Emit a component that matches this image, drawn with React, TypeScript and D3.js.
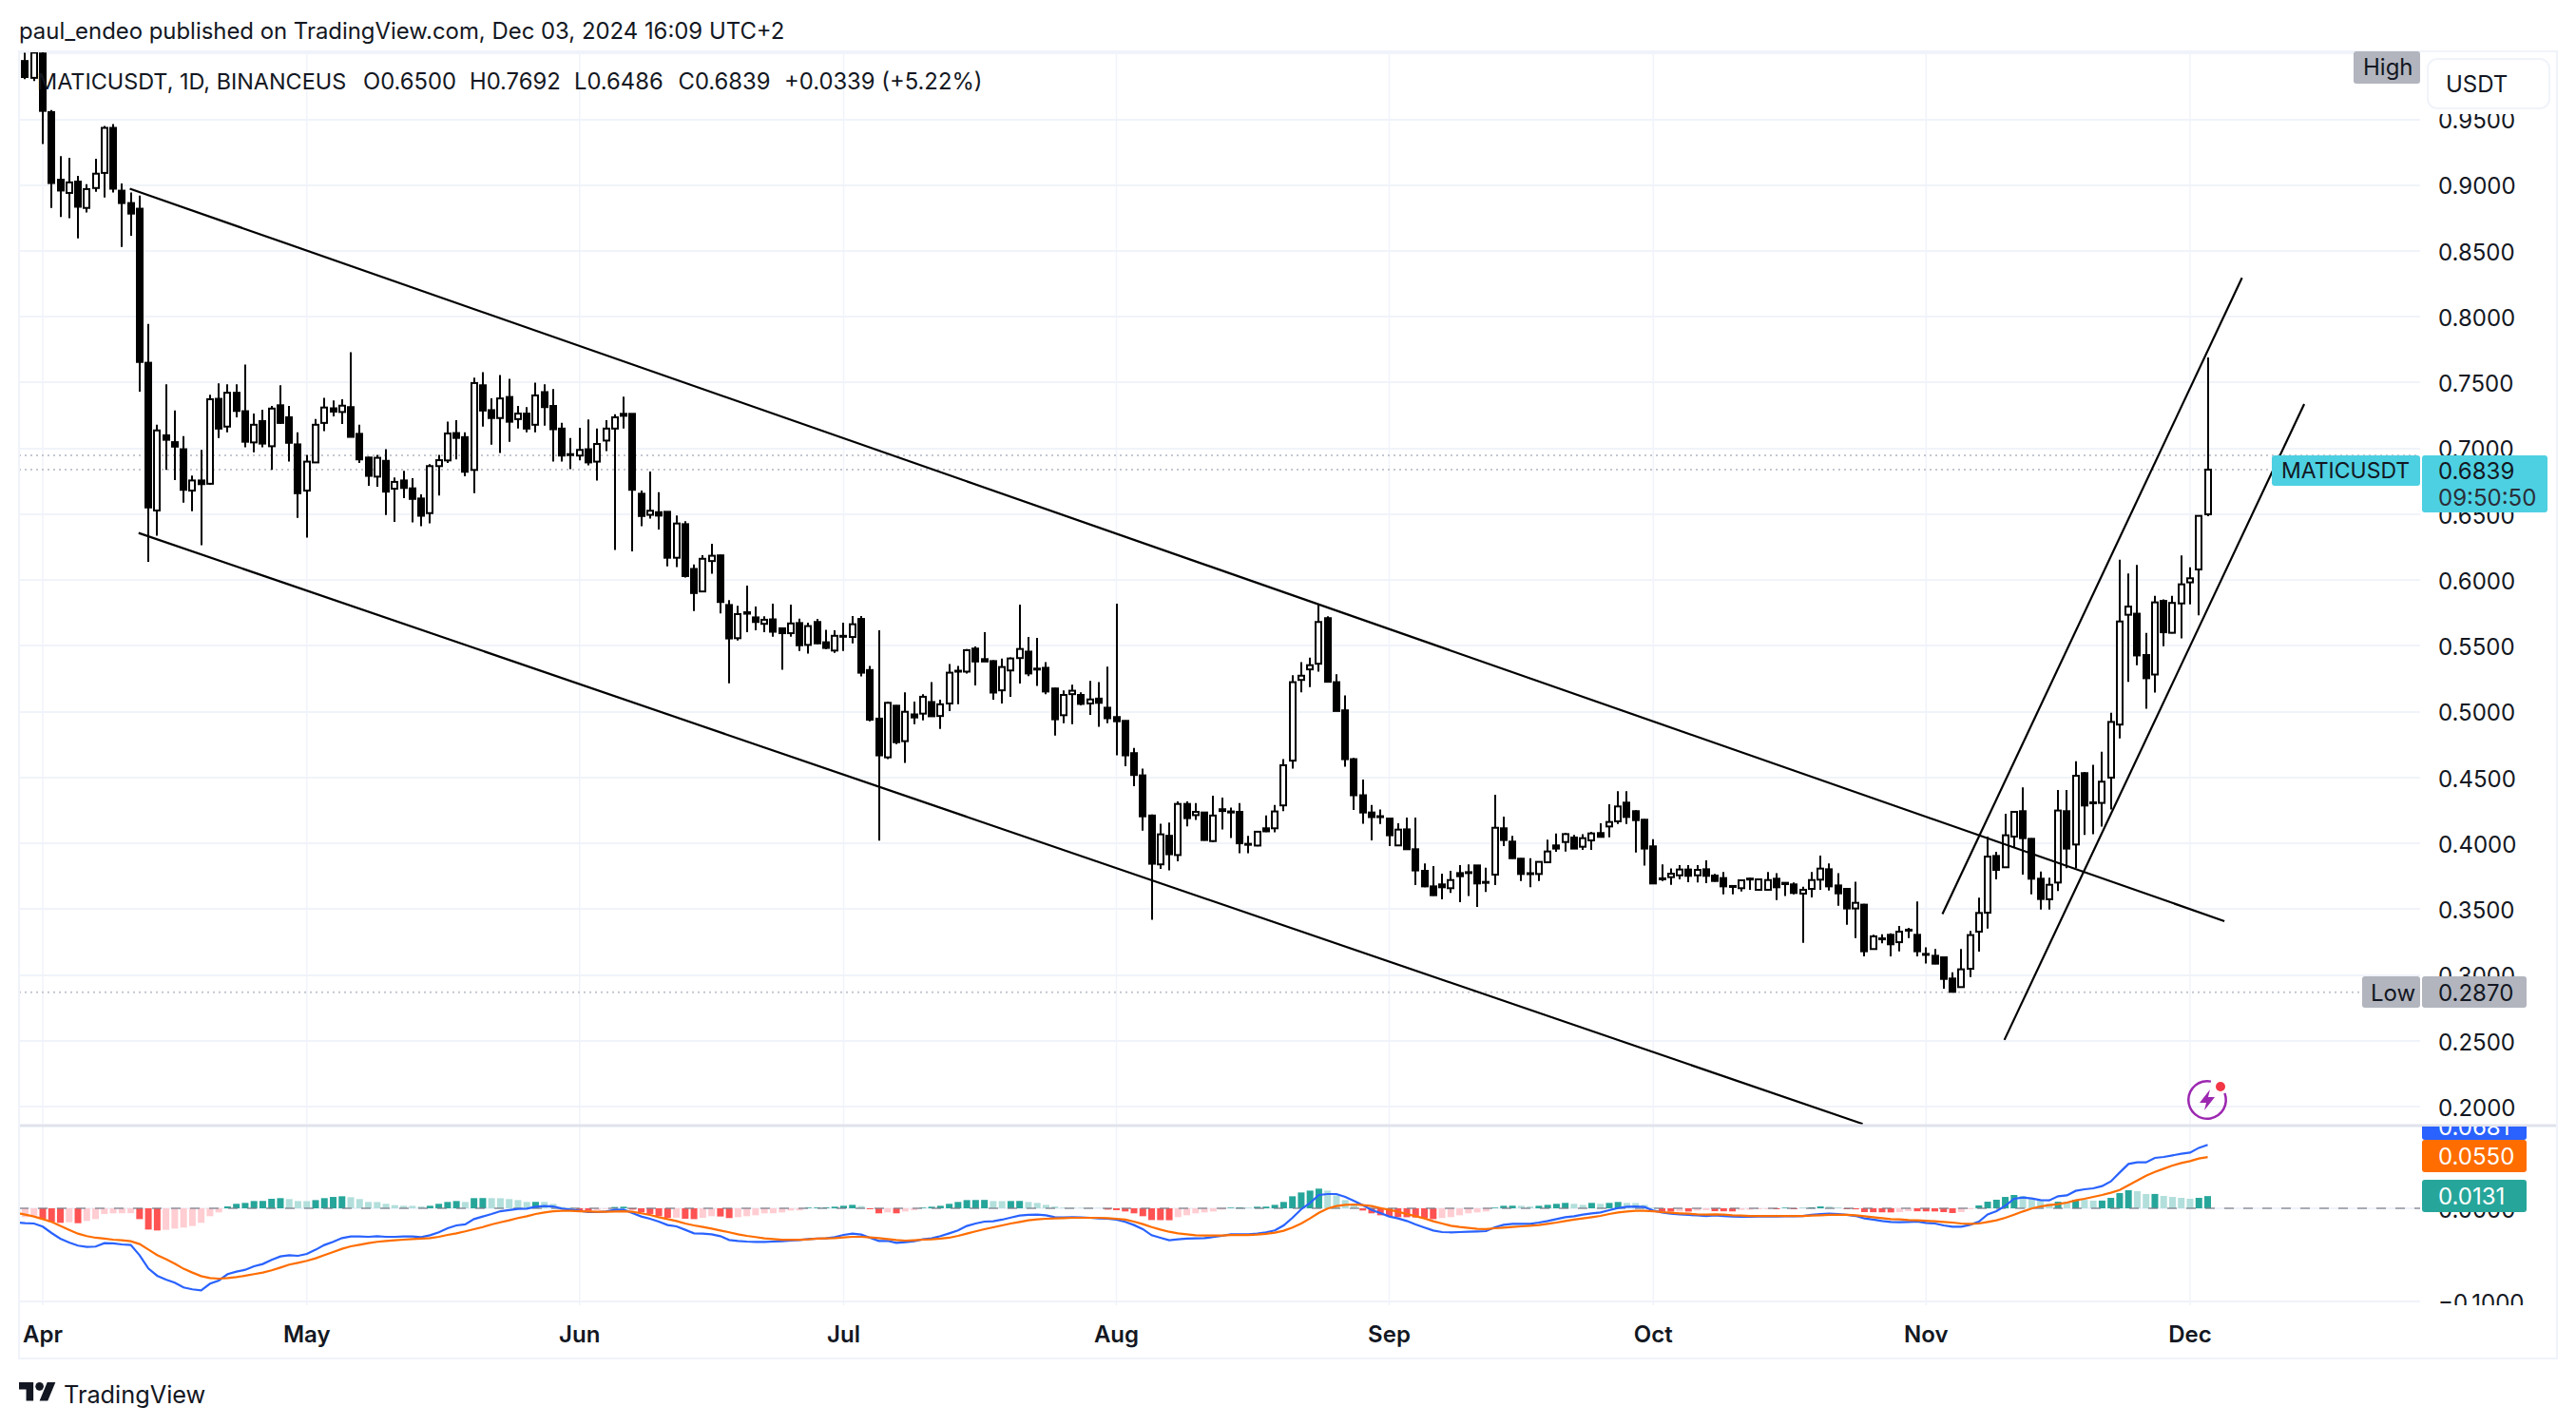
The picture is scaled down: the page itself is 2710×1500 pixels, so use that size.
import React, { useEffect, useRef } from 'react';
import * as d3 from 'd3';

// [open, high, low, close] per day
const candlesMar = [
  [0.9943, 1.0006, 0.9806, 0.9821], [0.9815, 1.01, 0.979, 1.0006],
];
const candlesApr = [
  [1.0, 1.01, 0.9313, 0.9564], [0.9555, 0.957, 0.8827, 0.9016], [0.9041, 0.9221, 0.8759, 0.8959],
  [0.8941, 0.9207, 0.875, 0.9021], [0.9027, 0.907, 0.8596, 0.8836], [0.8827, 0.9007, 0.8793, 0.897],
  [0.8978, 0.9201, 0.895, 0.9087], [0.9093, 0.945, 0.8907, 0.9435], [0.9435, 0.9464, 0.8944, 0.8973],
  [0.8958, 0.9013, 0.853, 0.8864], [0.8864, 0.8944, 0.8616, 0.8784], [0.8821, 0.8921, 0.7431, 0.7657],
  [0.7651, 0.7945, 0.6138, 0.6552], [0.6529, 0.718, 0.6338, 0.7137], [0.71, 0.7488, 0.6837, 0.7066],
  [0.7048, 0.7288, 0.676, 0.7014], [0.6994, 0.7094, 0.6589, 0.6686], [0.668, 0.6794, 0.6523, 0.6757],
  [0.6757, 0.6989, 0.6266, 0.6729], [0.6732, 0.7408, 0.6723, 0.7374], [0.7377, 0.7494, 0.708, 0.7151],
  [0.7166, 0.7488, 0.7123, 0.7423], [0.7423, 0.7488, 0.7237, 0.7285], [0.7283, 0.7637, 0.7009, 0.7051],
  [0.7046, 0.7265, 0.6971, 0.718], [0.7208, 0.7294, 0.7009, 0.7037], [0.7017, 0.7323, 0.6837, 0.7303],
  [0.7328, 0.748, 0.7186, 0.7194], [0.7237, 0.7323, 0.69, 0.7043], [0.7031, 0.7123, 0.6472, 0.666],
];
const candlesMay = [
  [0.668, 0.6951, 0.6323, 0.69], [0.6894, 0.7223, 0.6894, 0.718], [0.7194, 0.7385, 0.7131, 0.7311],
  [0.7305, 0.7365, 0.7243, 0.728], [0.7277, 0.7374, 0.7186, 0.7325], [0.7314, 0.7731, 0.7088, 0.7088],
  [0.7111, 0.718, 0.6889, 0.6917], [0.6931, 0.6937, 0.6717, 0.6792], [0.6786, 0.6951, 0.6709, 0.6929],
  [0.6906, 0.6994, 0.6495, 0.6672], [0.6694, 0.678, 0.6443, 0.6746], [0.6757, 0.6831, 0.6623, 0.67],
  [0.6697, 0.6774, 0.6438, 0.6617], [0.662, 0.6652, 0.6409, 0.6489], [0.6509, 0.688, 0.6432, 0.6866],
  [0.6866, 0.6951, 0.6643, 0.6911], [0.6909, 0.7203, 0.6889, 0.7114], [0.7117, 0.7214, 0.6917, 0.708],
  [0.7086, 0.7123, 0.6789, 0.6823], [0.6837, 0.7537, 0.666, 0.7497], [0.748, 0.758, 0.7166, 0.7288],
  [0.7291, 0.738, 0.7029, 0.7231], [0.7231, 0.7557, 0.6966, 0.738], [0.7391, 0.7528, 0.7051, 0.7203],
  [0.7223, 0.7323, 0.7151, 0.7265], [0.7265, 0.7314, 0.7123, 0.7151], [0.718, 0.75, 0.7123, 0.7403],
  [0.7428, 0.7488, 0.7174, 0.7314], [0.7323, 0.7451, 0.69, 0.7146], [0.7151, 0.7194, 0.69, 0.6946],
  [0.6957, 0.708, 0.6843, 0.695],
];
const candlesJun = [
  [0.6946, 0.7157, 0.6909, 0.6989], [0.6994, 0.722, 0.6872, 0.6894], [0.69, 0.7151, 0.6757, 0.7034],
  [0.706, 0.7214, 0.698, 0.7151], [0.7151, 0.726, 0.6229, 0.7237], [0.7263, 0.7394, 0.7151, 0.7248],
  [0.7263, 0.7266, 0.6218, 0.6686], [0.6656, 0.6681, 0.641, 0.6487], [0.6496, 0.6824, 0.6467, 0.6527],
  [0.6516, 0.6667, 0.6385, 0.649], [0.6519, 0.6519, 0.6105, 0.617], [0.617, 0.649, 0.6099, 0.643],
  [0.6425, 0.6447, 0.6019, 0.6031], [0.6085, 0.6119, 0.5765, 0.5902], [0.5914, 0.619, 0.5914, 0.6162],
  [0.6145, 0.6276, 0.6048, 0.6185], [0.6188, 0.6193, 0.5748, 0.5834], [0.5811, 0.5848, 0.5217, 0.5557],
  [0.5559, 0.5805, 0.5542, 0.5742], [0.5756, 0.5959, 0.5605, 0.5745], [0.5717, 0.5799, 0.5619, 0.5682],
  [0.5668, 0.5725, 0.5605, 0.5699], [0.5702, 0.5822, 0.5571, 0.5608], [0.5634, 0.5639, 0.532, 0.5597],
  [0.5597, 0.5814, 0.5571, 0.5671], [0.5674, 0.5708, 0.5462, 0.5505], [0.5508, 0.5677, 0.5442, 0.5651],
  [0.5682, 0.5705, 0.5514, 0.552], [0.5528, 0.5622, 0.5477, 0.5485], [0.5465, 0.5619, 0.5448, 0.5577],
];
const candlesJul = [
  [0.5577, 0.5677, 0.5462, 0.557], [0.5568, 0.5728, 0.5519, 0.5665], [0.5705, 0.5728, 0.5268, 0.5297],
  [0.5317, 0.5348, 0.4928, 0.494], [0.4948, 0.5619, 0.4021, 0.4669], [0.4654, 0.5077, 0.464, 0.5068],
  [0.5046, 0.5051, 0.4754, 0.4769], [0.4777, 0.5148, 0.4612, 0.5], [0.498, 0.5077, 0.4906, 0.4957],
  [0.4986, 0.5134, 0.4934, 0.5114], [0.5074, 0.5225, 0.4963, 0.4966], [0.4968, 0.5091, 0.4869, 0.5057],
  [0.5063, 0.5362, 0.5006, 0.5297], [0.5308, 0.5348, 0.5057, 0.5312], [0.5305, 0.5477, 0.5291, 0.5468],
  [0.548, 0.5497, 0.52, 0.5382], [0.54, 0.5605, 0.5382, 0.5382], [0.5385, 0.5391, 0.5091, 0.5146],
  [0.5163, 0.5405, 0.5063, 0.534], [0.5314, 0.5414, 0.5114, 0.5405], [0.5408, 0.5814, 0.5214, 0.5477],
  [0.5457, 0.5568, 0.5271, 0.5291], [0.5328, 0.5562, 0.5197, 0.5322], [0.5334, 0.5377, 0.5134, 0.5154],
  [0.5177, 0.5183, 0.482, 0.4943], [0.4974, 0.5163, 0.4914, 0.5128], [0.5134, 0.5205, 0.4906, 0.516],
  [0.5128, 0.5148, 0.5048, 0.506], [0.5063, 0.5234, 0.4977, 0.5094], [0.51, 0.5225, 0.4886, 0.5068],
  [0.5031, 0.5342, 0.4914, 0.4951],
];
const candlesAug = [
  [0.496, 0.5822, 0.4669, 0.4928], [0.4931, 0.4934, 0.4586, 0.4669], [0.4686, 0.4726, 0.4435, 0.452],
  [0.4517, 0.4569, 0.4098, 0.4206], [0.4212, 0.422, 0.3421, 0.3846], [0.3841, 0.4149, 0.3806, 0.4069],
  [0.4058, 0.4158, 0.3795, 0.3918], [0.3912, 0.432, 0.3864, 0.43], [0.43, 0.432, 0.4129, 0.4192],
  [0.4215, 0.4306, 0.4178, 0.424], [0.4235, 0.424, 0.4021, 0.4026], [0.4018, 0.4363, 0.4012, 0.4212],
  [0.426, 0.4349, 0.4106, 0.4246], [0.4243, 0.4272, 0.4041, 0.4235], [0.424, 0.4306, 0.3926, 0.4001],
  [0.3997, 0.4058, 0.3926, 0.3992], [0.3984, 0.4092, 0.3978, 0.4089], [0.4115, 0.4212, 0.4086, 0.4092],
  [0.4115, 0.4292, 0.4084, 0.4243], [0.4289, 0.464, 0.4246, 0.4594], [0.4629, 0.5277, 0.4569, 0.5225],
  [0.5242, 0.5377, 0.5148, 0.5274], [0.5322, 0.5411, 0.5188, 0.5354], [0.5365, 0.5814, 0.5305, 0.5682],
  [0.5711, 0.5725, 0.5225, 0.5228], [0.5225, 0.5285, 0.5006, 0.5006], [0.5011, 0.5125, 0.4583, 0.464],
  [0.464, 0.4649, 0.4255, 0.4366], [0.4366, 0.4486, 0.4149, 0.4235], [0.4235, 0.4292, 0.4023, 0.42],
  [0.4207, 0.4257, 0.4148, 0.4203],
];
const candlesSep = [
  [0.4189, 0.4189, 0.398, 0.4062], [0.3985, 0.4153, 0.398, 0.4105], [0.4107, 0.4197, 0.3956, 0.3956],
  [0.3956, 0.4197, 0.3684, 0.3795], [0.3792, 0.3848, 0.3667, 0.3674], [0.3674, 0.3828, 0.3602, 0.3607],
  [0.3689, 0.377, 0.3576, 0.3667], [0.366, 0.3792, 0.3624, 0.3722], [0.3775, 0.3836, 0.3554, 0.3751],
  [0.3782, 0.384, 0.36, 0.3776], [0.3833, 0.3836, 0.3518, 0.3696], [0.3708, 0.3816, 0.3631, 0.3703],
  [0.3763, 0.437, 0.3684, 0.4119], [0.4115, 0.4204, 0.398, 0.4026], [0.4014, 0.4057, 0.3884, 0.3888],
  [0.3884, 0.3888, 0.3715, 0.3768], [0.3774, 0.3888, 0.3667, 0.3771], [0.3768, 0.3864, 0.3715, 0.386],
  [0.3857, 0.4028, 0.3857, 0.3939], [0.3985, 0.4076, 0.3937, 0.3961], [0.4011, 0.4081, 0.3939, 0.4071],
  [0.4045, 0.4064, 0.3961, 0.3961], [0.3975, 0.4071, 0.3951, 0.404], [0.4023, 0.4088, 0.3951, 0.4076],
  [0.4079, 0.4153, 0.4047, 0.405], [0.4129, 0.4298, 0.4047, 0.4163], [0.4168, 0.4396, 0.4148, 0.4281],
  [0.431, 0.4396, 0.4148, 0.4201], [0.4245, 0.4252, 0.3932, 0.4177], [0.418, 0.4185, 0.3831, 0.3961],
];
const candlesOct = [
  [0.3978, 0.4033, 0.3696, 0.3696], [0.3735, 0.384, 0.3715, 0.3731], [0.3744, 0.3811, 0.3686, 0.377],
  [0.3758, 0.3836, 0.3727, 0.3802], [0.3802, 0.3836, 0.3706, 0.3754], [0.3758, 0.3836, 0.3703, 0.3799],
  [0.3804, 0.3872, 0.3698, 0.3754], [0.3756, 0.3768, 0.371, 0.3715], [0.3737, 0.3783, 0.3614, 0.3674],
  [0.3677, 0.3679, 0.3614, 0.3673], [0.366, 0.3727, 0.3636, 0.372], [0.373, 0.3739, 0.3648, 0.3733],
  [0.3648, 0.3732, 0.3643, 0.3727], [0.3648, 0.3783, 0.3643, 0.3722], [0.3732, 0.3775, 0.3571, 0.3667],
  [0.3701, 0.3703, 0.36, 0.3691], [0.3689, 0.3703, 0.3614, 0.3624], [0.3619, 0.3672, 0.3246, 0.3648],
  [0.3655, 0.3783, 0.359, 0.3722], [0.3725, 0.3908, 0.3648, 0.3809], [0.3804, 0.3848, 0.3643, 0.3674],
  [0.3681, 0.3775, 0.3527, 0.3621], [0.3655, 0.366, 0.3383, 0.3506], [0.3506, 0.371, 0.3282, 0.3549],
  [0.3535, 0.3542, 0.3142, 0.3181], [0.3198, 0.3306, 0.3193, 0.3294], [0.3279, 0.3311, 0.3241, 0.3275],
  [0.3306, 0.3318, 0.3142, 0.3234], [0.325, 0.3373, 0.3181, 0.333], [0.3345, 0.3359, 0.3282, 0.3341],
  [0.3306, 0.3559, 0.3142, 0.3181],
];
const candlesNov = [
  [0.3161, 0.321, 0.3089, 0.3157], [0.3147, 0.3198, 0.3082, 0.3087], [0.3135, 0.3142, 0.2897, 0.2971],
  [0.2974, 0.3022, 0.287, 0.2873], [0.2909, 0.3198, 0.2909, 0.3044], [0.3048, 0.3335, 0.2986, 0.3304],
  [0.333, 0.3588, 0.3178, 0.3472], [0.3474, 0.4052, 0.3354, 0.39], [0.3905, 0.3937, 0.3727, 0.3799],
  [0.3819, 0.4225, 0.3816, 0.4062], [0.4052, 0.4245, 0.3968, 0.424], [0.4245, 0.4425, 0.3763, 0.404],
  [0.4035, 0.404, 0.3614, 0.3732], [0.3732, 0.3787, 0.3498, 0.3578], [0.3576, 0.3739, 0.3498, 0.3686],
  [0.3703, 0.4406, 0.3638, 0.425], [0.4245, 0.4406, 0.3812, 0.3961], [0.3992, 0.4625, 0.3812, 0.4514],
  [0.4534, 0.4543, 0.4064, 0.4288], [0.4312, 0.4598, 0.407, 0.431], [0.4308, 0.4696, 0.4128, 0.4469],
  [0.45, 0.4993, 0.4258, 0.4923], [0.4903, 0.6155, 0.4798, 0.5686], [0.5737, 0.605, 0.5228, 0.5799],
  [0.5745, 0.6116, 0.5353, 0.5428], [0.5431, 0.56, 0.5024, 0.5255], [0.5283, 0.5881, 0.5146, 0.5831],
  [0.5842, 0.5854, 0.5498, 0.5604], [0.56, 0.5881, 0.5596, 0.5827], [0.5823, 0.6187, 0.5557, 0.5968],
];
const candlesDec = [
  [0.5983, 0.6097, 0.5815, 0.6014], [0.6081, 0.6488, 0.5733, 0.6488], [0.65, 0.7692, 0.6486, 0.6839],
];
const candles = [
  ...candlesMar, ...candlesApr, ...candlesMay, ...candlesJun, ...candlesJul,
  ...candlesAug, ...candlesSep, ...candlesOct, ...candlesNov, ...candlesDec,
];

// MACD line, from Mar 29
const macdLine = [
  -0.0153, -0.016, -0.0163,
  -0.0197, -0.0265, -0.0326, -0.0367, -0.0401, -0.0415, -0.0411, -0.0374, -0.0377, -0.0388,
  -0.0394, -0.0503, -0.0646, -0.0724, -0.0765, -0.0799, -0.085, -0.087, -0.0881, -0.0809,
  -0.0775, -0.0707, -0.068, -0.066, -0.0622, -0.0598, -0.0554, -0.0517, -0.0503, -0.051,
  -0.049, -0.0445, -0.0394, -0.036, -0.032, -0.0303, -0.0303, -0.0306, -0.0299, -0.0306,
  -0.0306, -0.0303, -0.0303, -0.0309, -0.0289, -0.0258, -0.0214, -0.0184, -0.0173, -0.0116,
  -0.0088, -0.0061, -0.0031, -0.002, -0.0007, -0.0003, 0.0017, 0.0024, 0.002, -0.0003, -0.0014,
  -0.0027, -0.0041, -0.0041, -0.0034, -0.0017, -0.0014, -0.0051, -0.0088, -0.0112, -0.0143,
  -0.018, -0.0194, -0.0231, -0.0269, -0.0272, -0.0279, -0.0299, -0.034, -0.035, -0.0357,
  -0.036, -0.036, -0.0357, -0.0354, -0.0347, -0.034, -0.033, -0.0326, -0.0323, -0.0309,
  -0.0286, -0.0272,
  -0.0282, -0.0316, -0.035, -0.035, -0.0371, -0.0364, -0.0354, -0.0333, -0.0323, -0.0299,
  -0.0269, -0.0238, -0.019, -0.0163, -0.0143, -0.0139, -0.0122, -0.0099, -0.0078, -0.0071,
  -0.0068, -0.0075, -0.0095, -0.0099, -0.0095, -0.0099, -0.0102, -0.0109, -0.0112,
  -0.0122, -0.0146, -0.018, -0.0224, -0.0289, -0.0316, -0.0343, -0.0333, -0.0326, -0.0323,
  -0.032, -0.0309, -0.0296, -0.0279, -0.0279, -0.0279, -0.0272, -0.0258, -0.0238, -0.0184,
  -0.0102, -0.001, 0.0058, 0.0143, 0.0153, 0.0153, 0.0122, 0.0078, 0.0034, -0.0017, -0.0051,
  -0.0088, -0.0109, -0.0136, -0.0173, -0.0207, -0.0238, -0.0255, -0.0258, -0.0255, -0.0252,
  -0.0248, -0.0245, -0.0204, -0.0177, -0.0167, -0.0167, -0.0167, -0.0153, -0.0136, -0.0116,
  -0.0095, -0.0085, -0.0068, -0.0054, -0.0044, -0.002, 0.0003, 0.0017, 0.002, 0.0014,
  -0.0024, -0.0044, -0.0058, -0.0065, -0.0071, -0.0075, -0.0082,
  -0.0075, -0.0082, -0.0088, -0.0092, -0.0092, -0.0088, -0.0088, -0.0088, -0.0085, -0.0085,
  -0.0082, -0.0071, -0.0061, -0.0058, -0.0061, -0.0071, -0.0082, -0.0109, -0.0122, -0.0136,
  -0.0146, -0.015, -0.0146, -0.0143,
  -0.0156, -0.0163, -0.0184, -0.0197, -0.0197, -0.0177, -0.0143, -0.0065, -0.0031, 0.0027,
  0.0102, 0.0116, 0.0105, 0.0088, 0.0085, 0.0129, 0.0139, 0.0187, 0.0204, 0.0214,
  0.0238, 0.0289, 0.0384, 0.0476, 0.0493, 0.0493, 0.0541, 0.0551, 0.0568, 0.0585,
  0.0598, 0.0649, 0.0681,
];

// signal line, from Mar 29
const signalLine = [
  -0.0048, -0.0068, -0.0088,
  -0.0116, -0.0146, -0.019, -0.0231, -0.0272, -0.0299, -0.0316, -0.0326, -0.0337, -0.0343,
  -0.0354, -0.0384, -0.0442, -0.0503, -0.0547, -0.0595, -0.0649, -0.069, -0.0728, -0.0748,
  -0.0755, -0.0748, -0.0738, -0.0724, -0.0707, -0.069, -0.0666, -0.0636, -0.0605, -0.0585,
  -0.0564, -0.0537, -0.0503, -0.0469, -0.0435, -0.0408, -0.0391, -0.0374, -0.036, -0.035,
  -0.0343, -0.0337, -0.033, -0.0326, -0.032, -0.0306, -0.0286, -0.0269, -0.0248, -0.0224,
  -0.0201, -0.0173, -0.015, -0.0129, -0.0105, -0.0085, -0.0061, -0.0044, -0.0031, -0.0027, -0.0027,
  -0.0031, -0.0034, -0.0037, -0.0037, -0.0034, -0.0031, -0.0037, -0.0054, -0.0071, -0.0095,
  -0.0116, -0.0136, -0.0163, -0.0184, -0.0201, -0.0218, -0.0238, -0.0258, -0.0279, -0.0296,
  -0.0309, -0.0323, -0.033, -0.0337, -0.0337, -0.0337, -0.0333, -0.0326, -0.0323, -0.032,
  -0.0313, -0.0306,
  -0.0306, -0.0313, -0.032, -0.033, -0.034, -0.0347, -0.0343, -0.0337, -0.0333, -0.0326,
  -0.0316, -0.0296, -0.0272, -0.0248, -0.0224, -0.0204, -0.0184, -0.0163, -0.0146, -0.0129,
  -0.0119, -0.0112, -0.0109, -0.0105, -0.0102, -0.0102, -0.0102, -0.0102, -0.0105,
  -0.0112, -0.0122, -0.0143, -0.017, -0.0201, -0.0228, -0.0252, -0.0269, -0.0279, -0.0289,
  -0.0292, -0.0292, -0.0292, -0.0286, -0.0286, -0.0286, -0.0282, -0.0275, -0.0262, -0.0241,
  -0.0207, -0.0163, -0.0109, -0.0048, -0.0003, 0.0024, 0.0037, 0.0041, 0.0034, 0.0024, 0.0003,
  -0.0017, -0.0037, -0.0061, -0.0085, -0.0109, -0.0139, -0.0163, -0.0187, -0.0201, -0.0211,
  -0.0221, -0.0224, -0.0214, -0.0207, -0.0201, -0.0194, -0.0187, -0.018, -0.0167, -0.0153,
  -0.0136, -0.0122, -0.0109, -0.0095, -0.0082, -0.0061, -0.0044, -0.0034, -0.0027, -0.0027,
  -0.0031, -0.0041, -0.0048, -0.0054, -0.0058, -0.0065, -0.0068,
  -0.0065, -0.0068, -0.0075, -0.0078, -0.0082, -0.0082, -0.0082, -0.0082, -0.0082, -0.0082,
  -0.0082, -0.0078, -0.0075, -0.0071, -0.0071, -0.0071, -0.0075, -0.0085, -0.0095, -0.0105,
  -0.0116, -0.0119, -0.0126, -0.0129,
  -0.0133, -0.0139, -0.0146, -0.0153, -0.0163, -0.0167, -0.0163, -0.0146, -0.0129, -0.0102,
  -0.0068, -0.0034, -0.0003, 0.002, 0.0034, 0.0044, 0.0061, 0.0085, 0.0102, 0.0122,
  0.0143, 0.0167, 0.0197, 0.0248, 0.0299, 0.035, 0.0391, 0.0425, 0.0459, 0.0486,
  0.0507, 0.0534, 0.055,
];

// histogram, from Mar 30
const histogram = [
  -0.0095, -0.0078,
  -0.0112, -0.0146, -0.0156, -0.015, -0.016, -0.0136, -0.0116, -0.0061, -0.0054, -0.0053,
  -0.0052, -0.0116, -0.0228, -0.0238, -0.0231, -0.0218, -0.0207, -0.019, -0.0156, -0.0085,
  -0.0044, 0.002, 0.0048, 0.0058, 0.0078, 0.0079, 0.0102, 0.0109, 0.0099, 0.0078,
  0.0077, 0.0088, 0.0109, 0.0122, 0.0129, 0.0119, 0.0099, 0.0068, 0.0067, 0.0048,
  0.0034, 0.0027, 0.0026, 0.002, 0.0027, 0.0048, 0.0068, 0.0078, 0.0068, 0.0109,
  0.011, 0.0109, 0.0108, 0.0099, 0.0088, 0.0068, 0.0069, 0.0068, 0.0048, 0.0014, 0.0007,
  -0.002, -0.0027, -0.002, -0.0007, 0.0014, 0.0017, -0.0014, -0.0044, -0.0061, -0.0085,
  -0.0102, -0.01, -0.0112, -0.0116, -0.0102, -0.0085, -0.0088, -0.0105, -0.0095, -0.0085,
  -0.0075, -0.0054, -0.0053, -0.0044, -0.0024, -0.0023, 0.0007, 0.0008, 0.0009, 0.0017,
  0.0027, 0.0037, 0.0024, -0.001, -0.0054, -0.0044, -0.0054, -0.0034, -0.002, 0.0007,
  0.0017, 0.0027, 0.0048, 0.0068, 0.0088, 0.0089, 0.009, 0.0078, 0.0077, 0.0078,
  0.0079, 0.0068, 0.0058, 0.0037, 0.002, 0.0007, 0.0006, 0.0005, 0.0004, 0.0003, -0.0014,
  -0.002, -0.0034, -0.0054, -0.0085, -0.0126, -0.0127, -0.0128, -0.0095, -0.0075, -0.0054,
  -0.0044, -0.0034, -0.0014, 0.0007, 0.0008, 0.0007, 0.0017, 0.0018, 0.0037, 0.0068,
  0.0129, 0.017, 0.019, 0.0211, 0.019, 0.0139, 0.0088, 0.0048, -0.0024, -0.0054, -0.0075,
  -0.0085, -0.0095, -0.0096, -0.0099, -0.0105, -0.0116, -0.0105, -0.0095, -0.0075, -0.0054,
  -0.0044, -0.0034, 0.0007, 0.0027, 0.0028, 0.0027, 0.002, 0.0027, 0.0037, 0.0048,
  0.0058, 0.0048, 0.0037, 0.0058, 0.0048, 0.0058, 0.0068, 0.0058, 0.0057, 0.0037,
  0.0007, -0.0034, -0.0035, -0.0034, -0.0035, -0.0024, -0.002,
  -0.0031, -0.0032, -0.0033, -0.0017, -0.0016, -0.001, -0.0009, -0.001, 0.0007, -0.001,
  0.0003, 0.001, 0.002, 0.0019, 0.001, -0.001, -0.0011, -0.0041, -0.0042, -0.0043,
  -0.0044, -0.0041, -0.0031, -0.0032,
  -0.0033, -0.0034, -0.0041, -0.0051, -0.0041, -0.001, 0.0031, 0.0071, 0.0092, 0.0122,
  0.0143, 0.0133, 0.0102, 0.0082, 0.0051, 0.0071, 0.007, 0.0092, 0.0091, 0.0082,
  0.0083, 0.0112, 0.0163, 0.0194, 0.0184, 0.0153, 0.0154, 0.0133, 0.0122, 0.0112,
  0.0102, 0.0112, 0.0131,
];

const priceTicks = d3.range(4, 20).map(i => i * 0.05);
const priceGrid = d3.range(4, 21).map(i => i * 0.05);
const macdTicks = [0, -0.1];
const monthNames = ['Apr', 'May', 'Jun', 'Jul', 'Aug', 'Sep', 'Oct', 'Nov', 'Dec'];
const monthDays = [0, 30, 61, 91, 122, 153, 183, 214, 244]; // days after Apr 1
const firstCandleDay = -2; // Mar 30
const firstLineDay = -3; // Mar 29

// drawn trend lines: [days after Apr 1, price] at each end
const trendLines = [
  [[9.89, 0.8973], [247.9, 0.341]],
  [[10.89, 0.6358], [206.8, 0.187]],
  [[215.86, 0.3463], [249.9, 0.8296]],
  [[222.9, 0.2508], [256.97, 0.7338]],
];
const dottedPrices = [0.6948, 0.6839, 0.287];

const FONT = 'Inter, sans-serif';
const TEXT = '#131722';
const GRID = '#f0f3fa';
const BORDER = '#e0e3eb';

const App: React.FC = () => {
  const svgRef = useRef<SVGSVGElement>(null);

  useEffect(() => {
    if (!svgRef.current) return;
    const svg = d3.select(svgRef.current);
    svg.selectAll('*').remove();

    const paneL = 20, paneR = 2546, outerR = 2690;
    const paneT = 55, paneB = 1183, macdT = 1185, macdB = 1373;

    const x = d3.scaleLinear().domain([0, 244]).range([45, 2304]);
    const y = d3.scaleLinear().domain([0.2, 0.85]).range([1164.2, 264]);
    const yM = d3.scaleLinear().domain([-0.1, 0]).range([1369, 1271]);

    const defs = svg.append('defs');
    const addClip = (id: string, cx: number, cy: number, w: number, h: number) =>
      defs.append('clipPath').attr('id', id).append('rect')
        .attr('x', cx).attr('y', cy).attr('width', w).attr('height', h);
    addClip('pane', paneL, paneT, paneR - paneL, paneB - paneT);
    addClip('macd', paneL, macdT, paneR - paneL, macdB - macdT);
    addClip('paneAxis', paneR, paneT, outerR - paneR, paneB - paneT);
    addClip('macdAxis', paneR, macdT, outerR - paneR, macdB - macdT);

    svg.append('rect').attr('width', 2710).attr('height', 1500).attr('fill', '#fff');

    // grid
    const grid = svg.append('g').attr('stroke', GRID).attr('stroke-width', 2);
    grid.selectAll('.h').data(priceGrid).enter().append('line')
      .attr('x1', paneL).attr('x2', paneR)
      .attr('y1', d => Math.round(y(d))).attr('y2', d => Math.round(y(d)));
    grid.selectAll('.m').data(macdTicks).enter().append('line')
      .attr('x1', paneL).attr('x2', paneR)
      .attr('y1', d => yM(d)).attr('y2', d => yM(d));
    grid.selectAll('.v').data(monthDays).enter().append('line')
      .attr('stroke-width', 1.5)
      .attr('x1', d => x(d)).attr('x2', d => x(d))
      .attr('y1', paneT).attr('y2', macdB);

    // dotted price lines
    svg.append('g').selectAll('line').data(dottedPrices).enter().append('line')
      .attr('x1', paneL).attr('x2', paneR)
      .attr('y1', d => y(d)).attr('y2', d => y(d))
      .attr('stroke', '#c4c7d0').attr('stroke-width', 2).attr('stroke-dasharray', '2 4');

    // candles
    const main = svg.append('g').attr('clip-path', 'url(#pane)');
    const candleG = main.selectAll('.c').data(candles).enter().append('g').attr('class', 'c');
    const cx = (i: number) => Math.round(x(i + firstCandleDay));
    candleG.append('line')
      .attr('x1', (_, i) => cx(i)).attr('x2', (_, i) => cx(i))
      .attr('y1', d => y(d[1])).attr('y2', d => y(d[2]))
      .attr('stroke', '#000').attr('stroke-width', 2);
    candleG.append('rect')
      .attr('x', (_, i) => cx(i) - 3)
      .attr('width', 6)
      .attr('y', d => Math.min(y(d[0]), y(d[3])))
      .attr('height', d => Math.max(Math.abs(y(d[0]) - y(d[3])), 1))
      .attr('fill', d => (d[3] >= d[0] ? '#fff' : '#000'))
      .attr('stroke', '#000').attr('stroke-width', 2);

    // trend lines
    main.selectAll('.t').data(trendLines).enter().append('line')
      .attr('x1', d => x(d[0][0])).attr('y1', d => y(d[0][1]))
      .attr('x2', d => x(d[1][0])).attr('y2', d => y(d[1][1]))
      .attr('stroke', '#000').attr('stroke-width', 2.2);

    // macd pane
    const macd = svg.append('g').attr('clip-path', 'url(#macd)');
    const barColor = (v: number, i: number) => {
      const prev = i > 0 ? histogram[i - 1] : 0;
      if (v >= 0) return v > prev ? '#26a69a' : '#b2dfdb';
      return v < prev && i > 0 ? '#ff5252' : '#ffcdd2';
    };
    macd.selectAll('.b').data(histogram).enter().append('rect')
      .attr('x', (_, i) => x(i + firstCandleDay) - 3.5)
      .attr('width', 7)
      .attr('y', d => (d >= 0 ? yM(d) : yM(0)))
      .attr('height', d => Math.abs(yM(d) - yM(0)))
      .attr('fill', barColor);
    macd.append('line')
      .attr('x1', paneL).attr('x2', paneR).attr('y1', yM(0)).attr('y2', yM(0))
      .attr('stroke', '#787b86').attr('stroke-opacity', 0.6).attr('stroke-width', 2)
      .attr('stroke-dasharray', '10 10');
    const line = d3.line<number>()
      .x((_, i) => x(i + firstLineDay))
      .y(d => yM(d));
    macd.append('path').datum(macdLine).attr('d', line)
      .attr('fill', 'none').attr('stroke', '#2962ff').attr('stroke-width', 2.2);
    macd.append('path').datum(signalLine).attr('d', line)
      .attr('fill', 'none').attr('stroke', '#ff6d00').attr('stroke-width', 2.2);

    // frame
    svg.append('line').attr('x1', paneL).attr('x2', outerR).attr('y1', paneB + 1).attr('y2', paneB + 1)
      .attr('stroke', BORDER).attr('stroke-width', 3);
    svg.append('rect').attr('x', paneL).attr('y', 54).attr('width', outerR - paneL).attr('height', 1429 - 54)
      .attr('fill', 'none').attr('stroke', GRID).attr('stroke-width', 2);

    // price and macd axes
    const styleAxis = (g: d3.Selection<SVGGElement, unknown, null, undefined>) => {
      g.select('.domain').remove();
      g.selectAll('text').attr('font-family', FONT).attr('font-size', 24).attr('fill', TEXT);
    };
    svg.append('g').attr('clip-path', 'url(#paneAxis)').append('g')
      .attr('transform', 'translate(2565,1.5)')
      .call(d3.axisRight(y).tickValues(priceTicks).tickSize(0).tickPadding(0).tickFormat(d3.format('.4f') as any))
      .call(styleAxis as any);
    svg.append('g').attr('clip-path', 'url(#macdAxis)').append('g')
      .attr('transform', 'translate(2565,1.5)')
      .call(d3.axisRight(yM).tickValues(macdTicks).tickSize(0).tickPadding(0).tickFormat(d3.format('.4f') as any))
      .call(styleAxis as any);

    // month labels
    svg.append('g').selectAll('text').data(monthNames).enter().append('text')
      .attr('x', (_, i) => x(monthDays[i])).attr('y', 1403)
      .attr('text-anchor', 'middle').attr('dominant-baseline', 'central')
      .attr('font-family', FONT).attr('font-size', 24).attr('font-weight', 600).attr('fill', TEXT)
      .text(d => d);

    const label = (parent: any, tx: number, ty: number, s: string, color = TEXT, size = 24) =>
      parent.append('text').attr('x', tx).attr('y', ty)
        .attr('dominant-baseline', 'central')
        .attr('font-family', FONT).attr('font-size', size).attr('fill', color).text(s);
    const box = (parent: any, bx: number, by: number, w: number, h: number, fill: string) =>
      parent.append('rect').attr('x', bx).attr('y', by).attr('width', w).attr('height', h)
        .attr('rx', 3).attr('fill', fill);

    // header and legend
    label(svg, 20, 32, 'paul_endeo published on TradingView.com, Dec 03, 2024 16:09 UTC+2', TEXT, 23.9);
    label(svg, 39, 85, 'MATICUSDT, 1D, BINANCEUS', TEXT, 23.4);
    label(svg, 382, 85, 'O0.6500', TEXT, 23.8);
    label(svg, 494, 85, 'H0.7692', TEXT, 23.8);
    label(svg, 604, 85, 'L0.6486', TEXT, 23.8);
    label(svg, 713.5, 85, 'C0.6839', TEXT, 23.8);
    label(svg, 825, 85, '+0.0339 (+5.22%)', TEXT, 23.8);

    // High / Low / last price tags
    box(svg, 2476, 54, 70, 34, '#b2b5be');
    label(svg, 2486, 70, 'High');
    box(svg, 2485, 1027, 61, 33, '#b2b5be');
    label(svg, 2494, 1044, 'Low');
    box(svg, 2548, 1027, 110, 33, '#b2b5be');
    label(svg, 2565, 1044, '0.2870');

    box(svg, 2390, 479, 156, 32, '#4dd0e1');
    label(svg, 2400, 495, 'MATICUSDT', TEXT, 23);
    box(svg, 2548, 479, 132, 60, '#4dd0e1');
    label(svg, 2565, 495, '0.6839');
    label(svg, 2565, 523, '09:50:50', '#2a2e39');

    // the currency box also hides the top of the tick label under it
    svg.append('rect').attr('x', 2548).attr('y', 56).attr('width', 140).attr('height', 64).attr('fill', '#fff');
    svg.append('rect').attr('x', 2554).attr('y', 62).attr('width', 128).attr('height', 52).attr('rx', 10)
      .attr('fill', '#fff').attr('stroke', GRID).attr('stroke-width', 2);
    label(svg, 2573, 88, 'USDT');

    // macd value tags
    const macdTags = svg.append('g').attr('clip-path', 'url(#macdAxis)');
    box(macdTags, 2548, 1170, 110, 29, '#2962ff');
    label(macdTags, 2565, 1185, '0.0681', '#fff');
    box(macdTags, 2548, 1199, 110, 34, '#ff6d00');
    label(macdTags, 2565, 1216, '0.0550', '#fff');
    box(macdTags, 2548, 1241, 110, 34, '#26a69a');
    label(macdTags, 2565, 1258, '0.0131', '#fff');

    // event icon
    const icon = svg.append('g').attr('transform', 'translate(2322,1157)');
    const ring = d3.arc()({ innerRadius: 18.5, outerRadius: 21, startAngle: 1.2, endAngle: Math.PI * 2 + 0.2 } as any);
    icon.append('path').attr('d', ring as string).attr('fill', '#9c27b0');
    icon.append('path').attr('d', 'M3,-11 L-8,3 L-1,3 L-3,11 L8,-3 L1,-3 Z').attr('fill', '#9c27b0');
    icon.append('circle').attr('cx', 14).attr('cy', -14).attr('r', 5).attr('fill', '#f23645');

    // TradingView mark
    const logo = svg.append('g').attr('transform', 'translate(20,1449.7) scale(1.08)').attr('fill', TEXT);
    logo.append('path').attr('d', 'M14 22H7V11H0V4h14v18zM28 22h-8l7.5-18h8L28 22z');
    logo.append('circle').attr('cx', 20).attr('cy', 8).attr('r', 4);
    label(svg, 67, 1466, 'TradingView', TEXT, 25.3);
  }, []);

  return (
    <svg
      ref={svgRef}
      width={2710}
      height={1500}
      viewBox="0 0 2710 1500"
      style={{ position: 'absolute', left: 0, top: 0, display: 'block' }}
    />
  );
};

export default App;
